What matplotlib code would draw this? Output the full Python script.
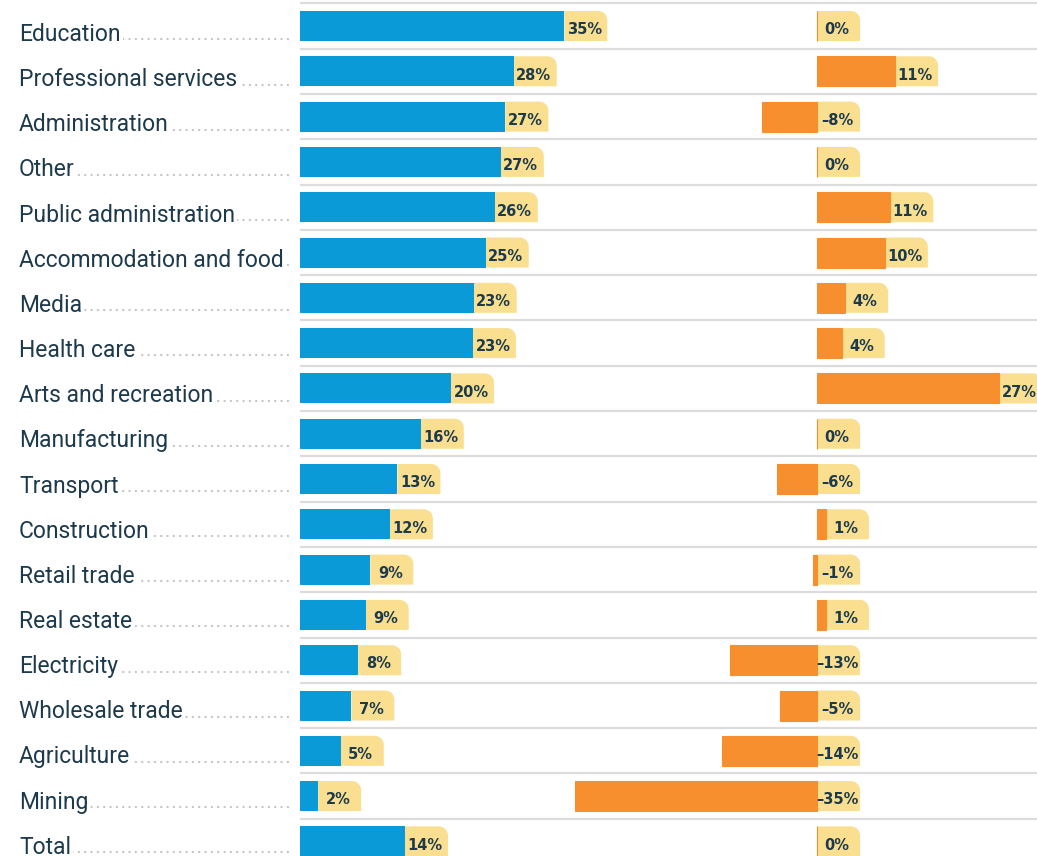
import matplotlib
matplotlib.use("Agg")
import matplotlib.pyplot as plt
from matplotlib.path import Path
from matplotlib.patches import PathPatch
from matplotlib.transforms import blended_transform_factory

# === Data ===
categories = [
    "Education", "Professional services", "Administration", "Other",
    "Public administration", "Accommodation and food", "Media", "Health care",
    "Arts and recreation", "Manufacturing", "Transport", "Construction",
    "Retail trade", "Real estate", "Electricity", "Wholesale trade",
    "Agriculture", "Mining", "Total",
]
share = [35.0, 28.3, 27.2, 26.6, 25.8, 24.6, 23.0, 22.9, 20.0, 16.0,
         12.9, 11.9, 9.3, 8.7, 7.7, 6.8, 5.4, 2.4, 13.9]
change = [0.0, 11.4, -8.0, 0.0, 10.7, 9.9, 4.1, 3.6, 26.6, 0.0,
          -5.8, 1.3, -0.6, 1.3, -12.7, -5.4, -13.9, -35.3, 0.0]

# === Style ===
BLUE = "#0a9ad7"
ORANGE = "#f78f2e"
YELLOW = "#f9df8f"
GRID = "#dcdcdc"
DOTS = "#c4c4c4"
INK = "#1d3a4c"

W, H = 1037, 856
ROW0, PITCH = 26, 45.3          # pixel centre of first row, row pitch
L_SCALE, R_SCALE = 7.55, 6.85   # pixels per percentage point
BAR_H = 30 / PITCH
TAB_W, TAB_R = 43, 9

fig = plt.figure(figsize=(W / 100, H / 100), dpi=100)
ylim = ((H - ROW0) / PITCH, -ROW0 / PITCH)


def px_axes(left, width):
    ax = fig.add_axes([left / W, 0, width / W, 1])
    ax.set_ylim(*ylim)
    ax.axis("off")
    ax.patch.set_alpha(0)
    return ax


ax_grid = px_axes(300, W - 300)
ax_grid.set_xlim(0, 1)
ax_l = px_axes(300, 320)
ax_l.set_xlim(0, 320 / L_SCALE)
ax_r = px_axes(560, 477)
ax_r.set_xlim(-257 / R_SCALE, 220 / R_SCALE)

rows = list(range(len(categories)))

# separators between rows
for i in rows:
    ax_grid.axhline(i - 0.5, color=GRID, lw=1.6, zorder=0)


def fmt(v):
    r = int(round(v))
    return f"{r}%" if r >= 0 else f"\u2013{abs(r)}%"


def tab(ax, x0, y, scale, text):
    w, rx, ry = TAB_W / scale, TAB_R / scale, TAB_R / PITCH
    x1, top, bot = x0 + w, y - BAR_H / 2, y + BAR_H / 2
    k = 0.5523
    verts = [(x0, bot), (x1, bot), (x1, top + ry), (x1, top + ry - k * ry),
             (x1 - rx + k * rx, top), (x1 - rx, top), (x0, top), (x0, bot)]
    codes = [Path.MOVETO, Path.LINETO, Path.LINETO, Path.CURVE4,
             Path.CURVE4, Path.CURVE4, Path.LINETO, Path.CLOSEPOLY]
    ax.add_patch(PathPatch(Path(verts, codes), facecolor=YELLOW,
                           edgecolor="none", zorder=1, clip_on=False))
    ax.text(x0 + w / 2 - 1.5 / scale, y + 8.3 / PITCH, text, ha="center",
            va="baseline", fontsize=10.5, fontweight="bold", color=INK,
            family="DejaVu Sans", zorder=3, clip_on=False)


# === Left: share ===
ax_l.barh(rows, share, height=BAR_H, color=BLUE, zorder=2)
for i, v in zip(rows, share):
    tab(ax_l, v, i, L_SCALE, fmt(v))

# === Right: change ===
ax_r.barh(rows, change, height=BAR_H, color=ORANGE, edgecolor=ORANGE,
          linewidth=0.8, zorder=2)
for i, v in zip(rows, change):
    tab(ax_r, max(v, 0), i, R_SCALE, fmt(v))

# === Category labels with dotted leaders ===
tr = blended_transform_factory(fig.transFigure, ax_l.transData)
for i, name in zip(rows, categories):
    base = i + (15 - 0.15 * i) / PITCH   # label column drifts slightly up
    ax_l.plot([288 / W, 19 / W], [base - 1.6 / PITCH] * 2, transform=tr,
              color=DOTS, lw=1.6, linestyle=(0, (0.1, 2.75)),
              dash_capstyle="round", clip_on=False, zorder=1)
    ax_l.text(19 / W, base, name, transform=tr, ha="left",
              va="baseline", fontsize=16.5, family="Roboto", color=INK,
              zorder=2, clip_on=False,
              bbox=dict(facecolor="white", edgecolor="none", pad=1.5))

fig.savefig("out.png", dpi=100)
